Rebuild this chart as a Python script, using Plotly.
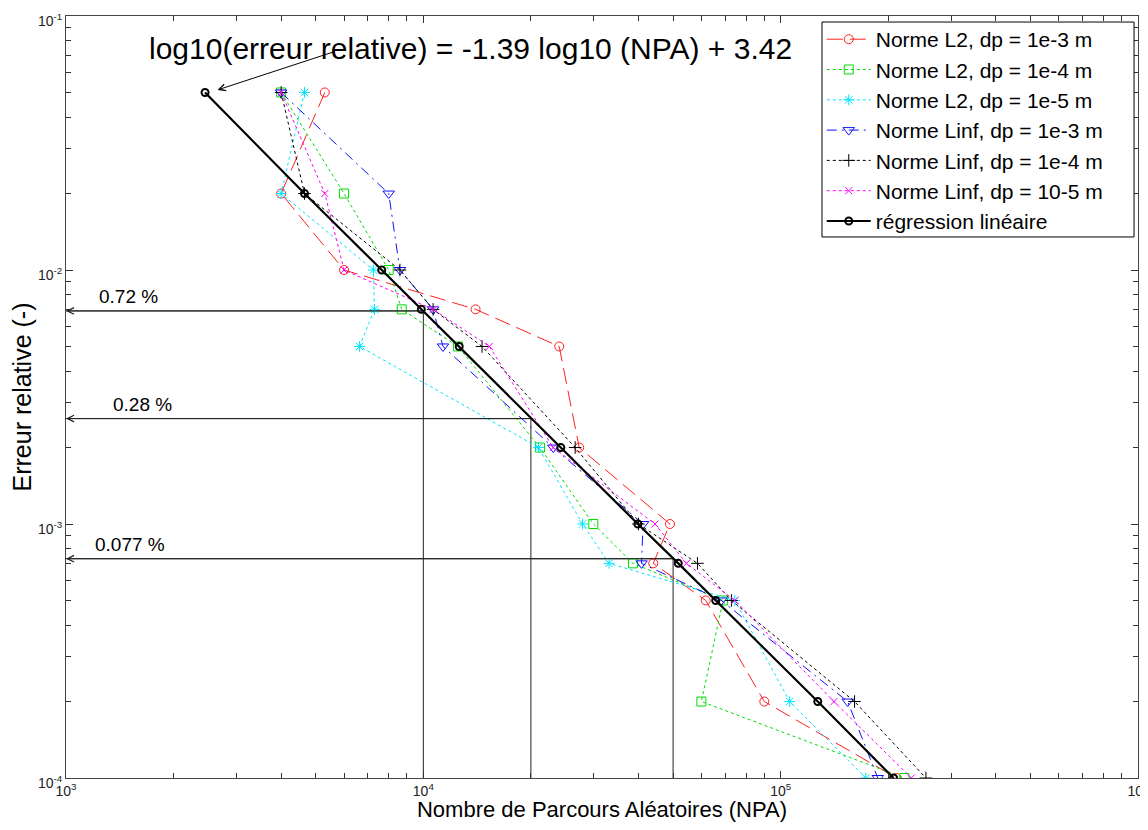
import plotly.graph_objects as go
import math

# ---------------- data ----------------
err = [0.05, 0.02, 0.01, 0.007, 0.005, 0.002, 0.001, 0.0007, 0.0005, 0.0002, 0.0001]

npa_l2_1e3 = [5300, 4000, 6000, 14000, 24000, 27300, 49000, 44000, 61700, 90000, 211000]
npa_l2_1e4 = [4000, 6000, 8000, 8700, 12500, 21200, 29900, 38600, 69000, 60000, 222000]
npa_l2_1e5 = [4650, 4000, 7250, 7300, 6630, 21000, 27900, 33100, 74400, 106000, 173000]
npa_linf_1e3 = [4000, 8000, 8600, 10650, 11350, 23100, 41200, 40800, 68200, 154000, 187000]
npa_linf_1e4 = [4000, 4650, 8600, 10650, 14600, 26600, 40000, 58500, 72800, 161000, 255000]
npa_linf_1e5 = [4000, 5300, 6000, 10650, 15300, 23100, 44500, 54500, 74400, 141000, 232000]
npa_reg = [2450, 4650, 7650, 9870, 12600, 24250, 39850, 51700, 65800, 127000, 207000]

series_names = [
    "Norme L2, dp = 1e-3 m",
    "Norme L2, dp = 1e-4 m",
    "Norme L2, dp = 1e-5 m",
    "Norme Linf, dp = 1e-3 m",
    "Norme Linf, dp = 1e-4 m",
    "Norme Linf, dp = 10-5 m",
    "régression linéaire",
]

guide_x = [1e4, 2e4, 5e4]
guide_y = [0.0069, 0.0026, 0.00073]
guide_labels = ["0.72 %", "0.28 %", "0.077 %"]
equation = "log10(erreur relative) = -1.39 log10 (NPA) + 3.42"

x_tick_vals = [1e3, 1e4, 1e5, 1e6]
x_tick_text = ["10<sup>3</sup>", "10<sup>4</sup>", "10<sup>5</sup>", "10<sup>6</sup>"]
y_tick_vals = [1e-4, 1e-3, 1e-2, 1e-1]
y_tick_text = ["10<sup>-4</sup>", "10<sup>-3</sup>", "10<sup>-2</sup>", "10<sup>-1</sup>"]

FONT = "Arial, Liberation Sans, sans-serif"

fig = go.Figure()

# guide lines (vertical + horizontal), drawn under data
for gx, gy in zip(guide_x, guide_y):
    fig.add_trace(go.Scatter(x=[gx, gx], y=[1e-4, gy], mode="lines",
                             line=dict(color="#222", width=1), showlegend=False,
                             hoverinfo="skip"))
    fig.add_trace(go.Scatter(x=[1e3, gx], y=[gy, gy], mode="lines",
                             line=dict(color="#222", width=1), showlegend=False,
                             hoverinfo="skip"))

styles = [
    dict(color="#ff2020", dash="16px,7px", symbol="circle-open", size=9),
    dict(color="#00dd00", dash="3px,3px", symbol="square-open", size=9),
    dict(color="#00e5ff", dash="3px,3px", symbol="asterisk-open", size=9),
    dict(color="#1010ff", dash="10px,5px,2px,5px", symbol="triangle-down-open", size=10),
    dict(color="#000000", dash="3px,3px", symbol="cross-thin-open", size=9),
    dict(color="#ff00ff", dash="3px,3px", symbol="x-thin-open", size=7),
]
data_series = [npa_l2_1e3, npa_l2_1e4, npa_l2_1e5, npa_linf_1e3, npa_linf_1e4, npa_linf_1e5]

for i, (xs, st) in enumerate(zip(data_series, styles)):
    fig.add_trace(go.Scatter(
        x=xs, y=err, mode="lines+markers", name=series_names[i],
        legendgroup=f"g{i}",
        line=dict(color=st["color"], width=1, dash=st["dash"]),
        marker=dict(symbol=st["symbol"], size=st["size"], color=st["color"],
                    line=dict(color=st["color"], width=1)),
    ))

fig.add_trace(go.Scatter(
    x=npa_reg, y=err, mode="lines+markers", name=series_names[6],
    legendgroup="g6",
    line=dict(color="black", width=2.2),
    marker=dict(symbol="circle-open", size=7, color="black",
                line=dict(color="black", width=2)),
))

annotations = []
# equation text and arrow
annotations.append(dict(x=3.226, y=-1.127, xref="x", yref="y", text=equation,
                        showarrow=False, xanchor="left", yanchor="middle",
                        font=dict(family=FONT, size=30, color="black")))
annotations.append(dict(x=math.log10(npa_reg[0]) + 0.035, y=math.log10(err[0]) + 0.01,
                        xref="x", yref="y", ax=119, ay=-39, axref="pixel", ayref="pixel",
                        text="", showarrow=True, arrowhead=5, arrowsize=1.3,
                        arrowwidth=1, arrowcolor="black"))
# horizontal arrows to the y-axis and labels
label_x = [3.174, 3.2135, 3.18]
for gx, gy, lab, lx in zip(guide_x, guide_y, guide_labels, label_x):
    annotations.append(dict(x=3.0, y=math.log10(gy), xref="x", yref="y",
                            ax=math.log10(gx), ay=math.log10(gy), axref="x", ayref="y",
                            text="", showarrow=True, arrowhead=5, arrowsize=1.3,
                            arrowwidth=1, arrowcolor="#222"))
    annotations.append(dict(x=lx, y=math.log10(gy), xref="x", yref="y", text=lab,
                            showarrow=False, xanchor="center", yanchor="bottom",
                            yshift=2, font=dict(family=FONT, size=19, color="black")))

minor_x = [m * 10 ** k for k in range(3, 6) for m in range(2, 10)]
minor_y = [m * 10 ** k for k in range(-4, -1) for m in range(2, 10)]

axis_common = dict(type="log", showgrid=False, zeroline=False, showline=True,
                   linecolor="#444", linewidth=1, mirror="ticks", ticks="inside",
                   ticklen=7, tickcolor="#333", tickwidth=1, automargin=False,
                   ticklabeloverflow="allow",
                   tickfont=dict(family=FONT, size=14, color="#222"))

# legend frame (white box with black border, covering lines beneath the legend)
legend_box = dict(type="rect", xref="paper", yref="paper",
                  x0=0.7052, x1=0.9963, y0=0.710, y1=0.9921,
                  line=dict(color="black", width=1), fillcolor="white", layer="above")

fig.update_layout(
    width=1140, height=814,
    margin=dict(l=58, r=10, t=8, b=44, autoexpand=False),
    paper_bgcolor="white", plot_bgcolor="white",
    font=dict(family=FONT, color="black"),
    xaxis=dict(range=[3, 6], tickvals=x_tick_vals, ticktext=x_tick_text,
               minor=dict(tickmode="array", tickvals=minor_x, ticks="inside",
                          ticklen=5, tickcolor="#333", showgrid=False),
               title=dict(text="Nombre de Parcours Aléatoires (NPA)",
                          font=dict(family=FONT, size=22, color="black"), standoff=4),
               **axis_common),
    yaxis=dict(range=[-4, -1], tickvals=y_tick_vals, ticktext=y_tick_text,
               ticklabelshift=5,
               minor=dict(tickmode="array", tickvals=minor_y, ticks="inside",
                          ticklen=5, tickcolor="#333", showgrid=False),
               title=dict(text="Erreur relative (-)",
                          font=dict(family=FONT, size=25, color="black"), standoff=2),
               **axis_common),
    legend=dict(x=0.705, y=0.996, xanchor="left", yanchor="top",
                bgcolor="rgba(0,0,0,0)", borderwidth=0,
                font=dict(family=FONT, size=21, color="black"),
                traceorder="grouped", tracegroupgap=0, itemwidth=44),
    shapes=[legend_box],
    annotations=annotations,
    showlegend=True,
)

fig.write_html("out.html")
